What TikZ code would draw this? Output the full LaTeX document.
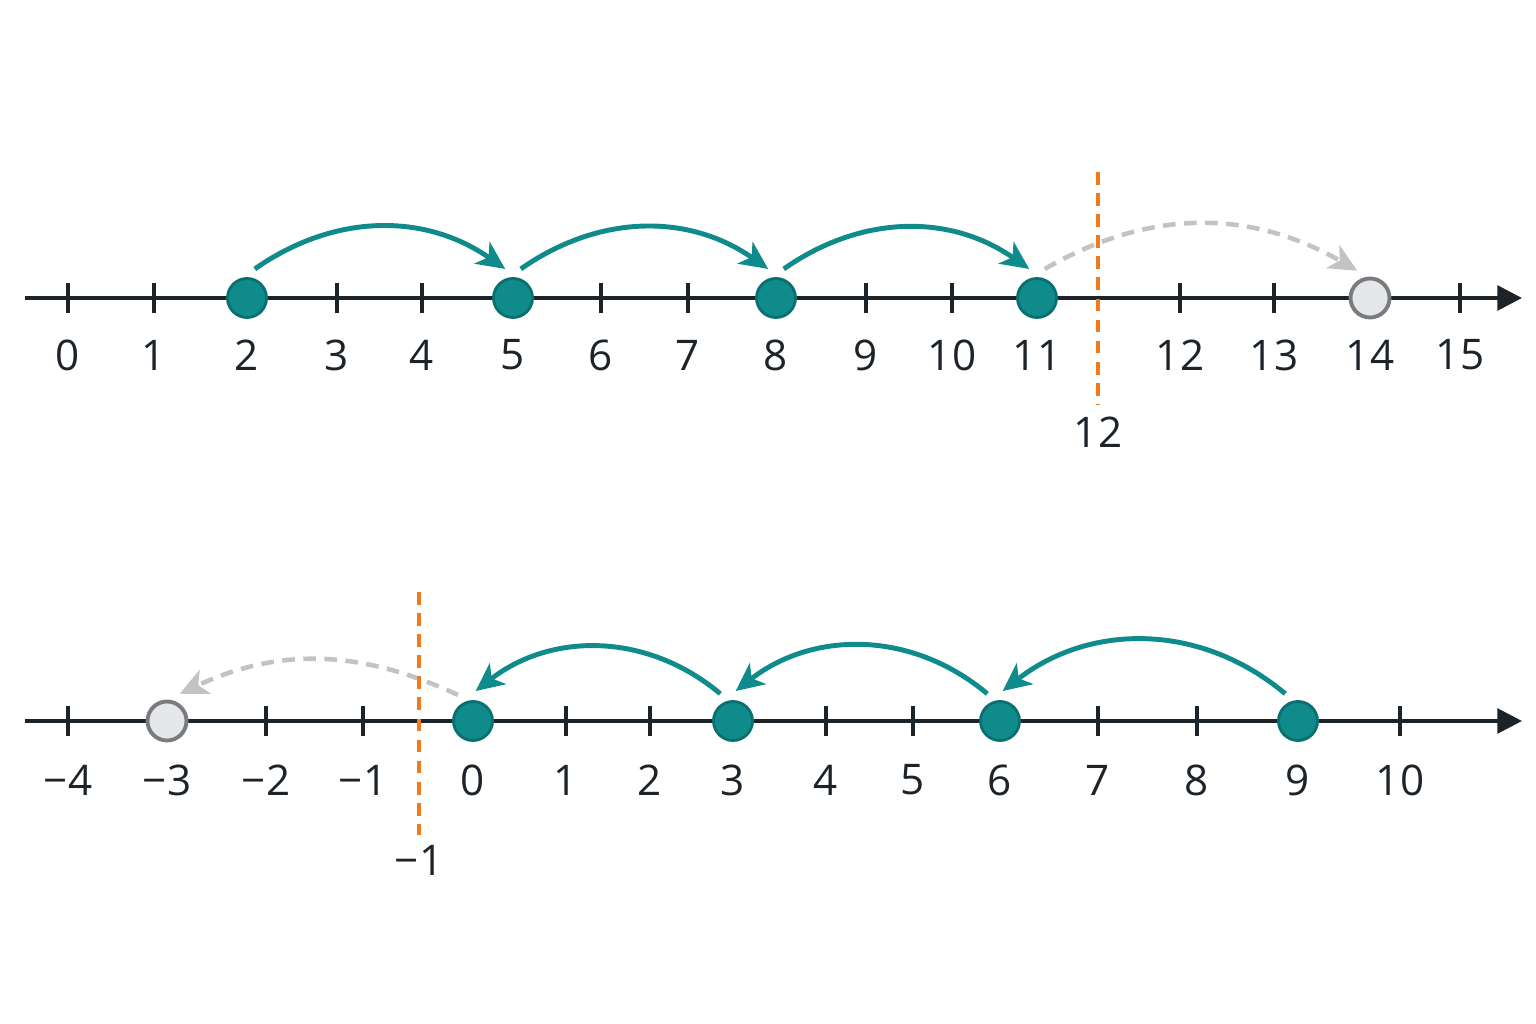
\documentclass[tikz,border=0pt]{standalone}
\usepackage{fontspec}
\setmainfont{Open Sans}
\usetikzlibrary{arrows.meta}

\definecolor{teal1}{HTML}{0F8B8B}
\definecolor{teal2}{HTML}{0A6F70}
\definecolor{axisc}{HTML}{1C2329}
\definecolor{ghost}{HTML}{E6E7EA}
\definecolor{ghostline}{HTML}{7A7B7D}
\definecolor{dashgray}{HTML}{C2C3C4}
\definecolor{cut}{HTML}{F07A1C}

\def\ytop{726}
\def\ybot{303}

\tikzset{
  axis/.style={draw=axisc,line width=1.1pt,-{Triangle[length=7pt,width=7pt]}},
  tick/.style={draw=axisc,line width=1.1pt},
  num/.style={text=axisc,font=\fontsize{12pt}{14pt}\selectfont},
  dot/.style={circle,minimum size=0.39cm,inner sep=0pt,outer sep=3pt,
    fill=teal1,draw=teal2,line width=0.8pt},
  ghostdot/.style={dot,fill=ghost,draw=ghostline,line width=1.1pt},
  jump/.style={draw=teal1,line width=1.4pt,-{Stealth[length=8pt,width=7.5pt,inset=2.2pt]}},
  ghostjump/.style={draw=dashgray,line width=1.3pt,dash pattern=on 3.6pt off 2.4pt,
    -{Stealth[length=8pt,width=7.5pt,inset=2.2pt]}},
  cutline/.style={draw=cut,line width=1.2pt,dash pattern=on 3.6pt off 2.4pt}
}

\begin{document}
\begin{tikzpicture}[x=0.01cm,y=0.01cm]
\useasboundingbox (0,0) rectangle (1536,1024);

% top line: counting up by 3
\draw[axis] (25,\ytop) -- (1522,\ytop);
\foreach \n/\x in {0/68,1/154,2/247,3/337,4/422,5/513,6/601,7/688,8/776,
                   9/866,10/952,11/1037,12/1180,13/1274,14/1370,15/1460}{
  \draw[tick] (\x,\ytop-15) -- (\x,\ytop+15);
  \node[num] at (\x,669) {\n};
}
\node[dot] (d2) at (247,\ytop) {};
\node[dot] (d5) at (513,\ytop) {};
\node[dot] (d8) at (776,\ytop) {};
\node[dot] (d11) at (1037,\ytop) {};
\node[ghostdot] (d14) at (1370,\ytop) {};

\draw[jump] (d2.75) to[out=35,in=145] (d5.105);
\draw[jump] (d5.75) to[out=35,in=145] (d8.105);
\draw[jump] (d8.75) to[out=35,in=145] (d11.105);
\draw[ghostjump] (d11.75) to[out=30,in=150] (d14.115);

\draw[cutline] (1098,852) -- (1098,619);
\node[num] (top cut) at (1098,592) {12};

% bottom line: counting down by 3
\draw[axis] (25,\ybot) -- (1522,\ybot);
\foreach \n/\x in {-4/68,-3/167,-2/266,-1/363,0/473,1/566,2/650,3/733,4/826,
                   5/913,6/1000,7/1098,8/1197,9/1298,10/1400}{
  \draw[tick] (\x,\ybot-15) -- (\x,\ybot+15);
  \node[num] at (\x,244) {\ifnum\n<0 −\number-\n\else\n\fi};
}
\node[ghostdot] (dm3) at (167,\ybot) {};
\node[dot] (d0) at (473,\ybot) {};
\node[dot] (d3) at (733,\ybot) {};
\node[dot] (d6) at (1000,\ybot) {};
\node[dot] (d9) at (1298,\ybot) {};

\draw[jump] (d9.115) to[out=140,in=38] (d6.85);
\draw[jump] (d6.115) to[out=140,in=38] (d3.85);
\draw[jump] (d3.115) to[out=140,in=38] (d0.85);
\draw[ghostjump] (d0.120) to[out=155,in=25] (dm3.65);

\draw[cutline] (419,432) -- (419,189);
\node[num] (bottom cut) at (419,164) {−1};

\end{tikzpicture}
\end{document}
